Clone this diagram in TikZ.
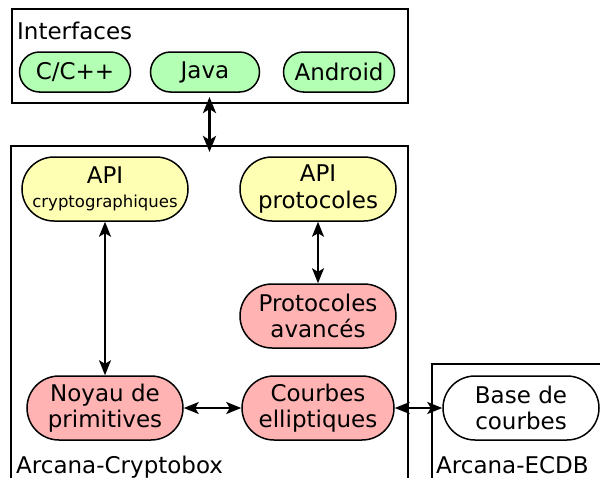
\documentclass[tikz,border=0pt]{standalone}
\usepackage{fontspec}
\setmainfont{DejaVu Sans}
\usetikzlibrary{arrows.meta}

\definecolor{ifgreen}{RGB}{179,255,179}
\definecolor{apiyellow}{RGB}{255,255,179}
\definecolor{corered}{RGB}{255,179,179}

\begin{document}
\begin{tikzpicture}[x=1pt,y=-1pt,
  frame/.style={draw, line width=2pt, inner sep=0pt},
  pill/.style={draw, line width=1.5pt, rectangle, inner sep=0pt, align=center,
    font=\fontsize{23}{26.5}\selectfont},
  small/.style={pill, minimum height=40pt, rounded corners=20pt},
  big/.style={pill, minimum height=64pt, rounded corners=32pt},
  caption/.style={anchor=base west, inner sep=0pt, font=\fontsize{23}{26}\selectfont},
  link/.style={line width=1.7pt, {Stealth[length=15pt,width=12pt,inset=3.5pt]}-{Stealth[length=15pt,width=12pt,inset=3.5pt]}},
  biglink/.style={line width=3.5pt, {Stealth[length=16pt,width=13pt,inset=4pt]}-{Stealth[length=16pt,width=13pt,inset=4pt]}}
]
\clip (0,0) rectangle (600,477);
\fill[white] (0,0) rectangle (600,477);

% enclosing frames
\node[frame, minimum width=396pt, minimum height=94pt] (iface) at (209.5,56) {};
\node[frame, minimum width=397pt, minimum height=354pt] (crypto) at (209.5,323) {};
\node[frame, minimum width=200pt, minimum height=150pt] (ecdb) at (532,439) {};

\node[caption] (ifacelabel) at (17,39) {Interfaces};
\node[caption] (cryptolabel) at (16,473) {Arcana-Cryptobox};
\node[caption] (ecdblabel) at (436,473) {Arcana-ECDB};

% interface bindings
\node[small, fill=ifgreen, minimum width=111pt] (cpp) at (75,72) {C/C++};
\node[small, fill=ifgreen, minimum width=109pt] (java) at (205,72) {Java};
\node[small, fill=ifgreen, minimum width=111pt] (android) at (339,72) {Android};

% cryptobox components
\node[big, fill=apiyellow, minimum width=166pt] (apic) at (105,189)
  {API\\[-3pt]{\fontsize{16.5}{19}\selectfont cryptographiques}};
\node[big, fill=apiyellow, minimum width=156pt] (apip) at (318,189) {API\\protocoles};
\node[big, fill=corered, minimum width=156pt] (prot) at (318,316) {Protocoles\\avancés};
\node[big, fill=corered, minimum width=156pt] (noyau) at (105,408) {Noyau de\\primitives};
\node[big, fill=corered, minimum width=152pt] (courbes) at (318,408) {Courbes\\elliptiques};

% curve database
\node[big, fill=white, minimum width=156pt] (base) at (521,408) {Base de\\courbes};

% connections
\draw[biglink, shorten <=-7pt, shorten >=-7pt] (iface.south) -- (crypto.north);
\draw[link] (apic) -- (noyau);
\draw[link] (apip) -- (prot);
\draw[link] (noyau) -- (courbes);
\draw[link] (courbes) -- (base);
\end{tikzpicture}
\end{document}
